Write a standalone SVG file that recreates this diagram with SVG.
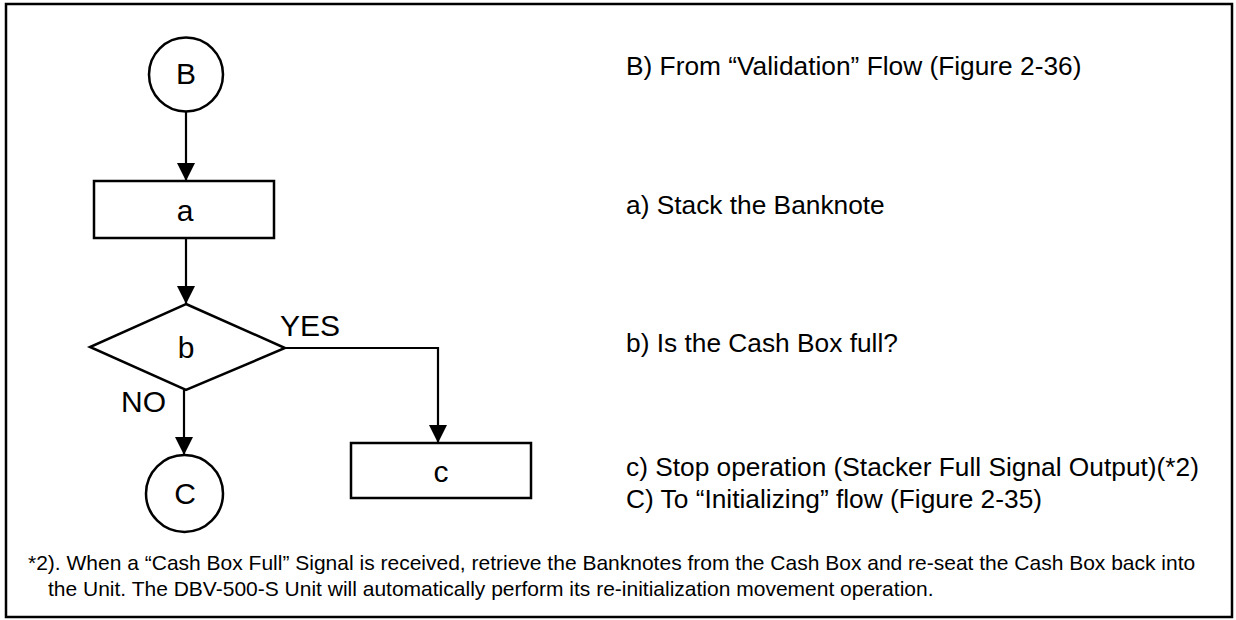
<svg xmlns="http://www.w3.org/2000/svg" width="1236" height="620" viewBox="0 0 1236 620">
<style>
.sh{fill:#fff;stroke:#000;stroke-width:2.5}
.ln{fill:none;stroke:#000;stroke-width:2.2}
.lb{font-family:"Liberation Sans",Arial,sans-serif;font-size:30px;fill:#000}
.ds{font-family:"Liberation Sans",Arial,sans-serif;font-size:26.3px;fill:#000}
.fn{font-family:"Liberation Sans",Arial,sans-serif;font-size:21px;fill:#000}
</style>
<defs>
<marker id="ah" viewBox="0 0 18 18" refX="18" refY="9" markerWidth="18" markerHeight="18" markerUnits="userSpaceOnUse" orient="auto">
<path d="M0,0 L18,9 L0,18 Z" fill="#000"/>
</marker>
</defs>
<rect x="6" y="4" width="1226" height="613" fill="#fff" stroke="#000" stroke-width="2.5"/>
<g id="connectors">
<line class="ln" x1="186" y1="112" x2="186" y2="181" marker-end="url(#ah)"/>
<line class="ln" x1="186" y1="238" x2="186" y2="304" marker-end="url(#ah)"/>
<line class="ln" x1="184" y1="390" x2="184" y2="455" marker-end="url(#ah)"/>
<polyline class="ln" points="285,348 438,348 438,443" marker-end="url(#ah)"/>
<text class="lb" x="280" y="336">YES</text>
<text class="lb" x="121" y="412">NO</text>
</g>
<g id="node-B">
<circle class="sh" cx="186" cy="74.5" r="37"/>
<text class="lb" x="186" y="84" text-anchor="middle">B</text>
</g>
<g id="node-a">
<rect class="sh" x="94" y="181" width="180" height="57"/>
<text class="lb" x="185" y="221" text-anchor="middle">a</text>
</g>
<g id="node-b">
<polygon class="sh" points="186,304 285,348 186,390 90,347"/>
<text class="lb" x="186" y="358" text-anchor="middle">b</text>
</g>
<g id="node-C">
<circle class="sh" cx="184.5" cy="493.5" r="38.5"/>
<text class="lb" x="185" y="504" text-anchor="middle">C</text>
</g>
<g id="node-c">
<rect class="sh" x="351" y="443" width="180" height="55"/>
<text class="lb" x="441" y="482" text-anchor="middle">c</text>
</g>
<g id="legend">
<text class="ds" x="626" y="75">B) From “Validation” Flow (Figure 2-36)</text>
<text class="ds" x="626" y="214">a) Stack the Banknote</text>
<text class="ds" x="626" y="352">b) Is the Cash Box full?</text>
<text class="ds" x="626" y="476">c) Stop operation (Stacker Full Signal Output)(*2)</text>
<text class="ds" x="626" y="508">C) To “Initializing” flow (Figure 2-35)</text>
</g>
<g id="footnote">
<text class="fn" x="28" y="570">*2). When a “Cash Box Full” Signal is received, retrieve the Banknotes from the Cash Box and re-seat the Cash Box back into</text>
<text class="fn" x="48" y="596">the Unit. The DBV-500-S Unit will automatically perform its re-initialization movement operation.</text>
</g>
</svg>
